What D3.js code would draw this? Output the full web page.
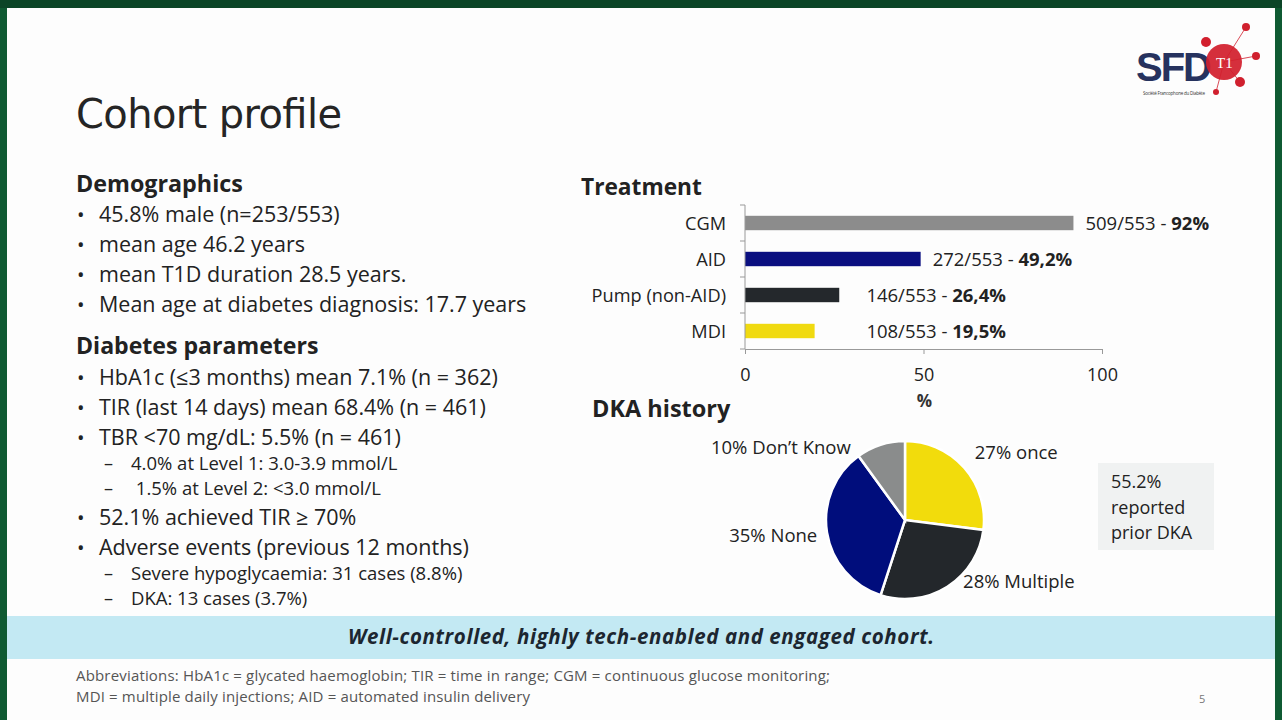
<!DOCTYPE html>
<html>
<head>
  <meta charset="utf-8">
  <title>Cohort profile</title>
  <script src="https://d3js.org/d3.v7.min.js"></script>
  <style>
    body { margin:0; background:#0f5a32; }
    svg { display:block; font-family:"Open Sans", sans-serif; }
  </style>
</head>
<body>
<div id="vis"></div>
<script>
// datos del grafico de tratamiento
var treatments = ["CGM", "AID", "Pump (non-AID)", "MDI"];
var treatPct = [92, 49.2, 26.4, 19.5];
var treatCount = ["509/553", "272/553", "146/553", "108/553"];
var treatPctLabel = ["92%", "49,2%", "26,4%", "19,5%"];
var treatColors = ["#8c8c8c", "#0a0f80", "#24282c", "#f0da10"];
var xTicks = [0, 50, 100];

// historia de DKA (pie)
var dkaLabels = ["27% once", "28% Multiple", "35% None", "10% Don\u2019t Know"];
var dkaValues = [27, 28, 35, 10];
var dkaColors = ["#f2dc0c", "#23272b", "#000d7c", "#8a8c8c"];

// textos de la izquierda
var demographics = ["45.8% male (n=253/553)", "mean age 46.2 years",
  "mean T1D duration 28.5 years.", "Mean age at diabetes diagnosis: 17.7 years"];
var diabetesParams = [
  {t:"HbA1c (\u22643 months) mean 7.1% (n = 362)", lvl:1},
  {t:"TIR (last 14 days) mean 68.4% (n = 461)", lvl:1},
  {t:"TBR <70 mg/dL: 5.5% (n = 461)", lvl:1},
  {t:"4.0% at Level 1: 3.0-3.9 mmol/L", lvl:2},
  {t:" 1.5% at Level 2: <3.0 mmol/L", lvl:2},
  {t:"52.1% achieved TIR \u2265 70%", lvl:1},
  {t:"Adverse events (previous 12 months)", lvl:1},
  {t:"Severe hypoglycaemia: 31 cases (8.8%)", lvl:2},
  {t:"DKA: 13 cases (3.7%)", lvl:2}
];

var svg = d3.select("#vis").append("svg")
  .attr("width", 1282).attr("height", 720);

// fondo de la diapositiva
svg.append("rect").attr("x",0).attr("y",0).attr("width",1282).attr("height",8).attr("fill","#0b4527");
svg.append("rect").attr("x",7).attr("y",8).attr("width",1268).attr("height",712).attr("fill","#fdfdfd");

// titulo
svg.append("text").attr("x",76).attr("y",128)
  .attr("font-size",40).attr("fill","#252525").style("font-family","'DejaVu Sans'")
  .attr("textLength",266).text("Cohort profile");

// logo (simplificado)
var logo = svg.append("g");
[[1246,27,4],[1256,56,4],[1240,82,5],[1216,92,3]].forEach(function(p){
  logo.append("line").attr("x1",1224).attr("y1",62).attr("x2",p[0]).attr("y2",p[1])
    .attr("stroke","#d0202e").attr("stroke-width",0.8);
  logo.append("circle").attr("cx",p[0]).attr("cy",p[1]).attr("r",p[2]).attr("fill","#d0202e");
});
logo.append("text").attr("x",1136).attr("y",81).attr("font-size",40).attr("font-weight","bold")
  .attr("fill","#26325e").style("font-family","'Liberation Sans'").attr("textLength",76).text("SFD");
logo.append("circle").attr("cx",1224).attr("cy",62).attr("r",18).attr("fill","#d21f2d").attr("opacity",0.93);
logo.append("circle").attr("cx",1206).attr("cy",42).attr("r",5).attr("fill","#d21f2d");
logo.append("text").attr("x",1216).attr("y",68).attr("font-size",15).attr("fill","#fff")
  .style("font-family","'Liberation Serif'").text("T1");
logo.append("text").attr("x",1143).attr("y",95).attr("font-size",4.5).attr("fill","#333")
  .attr("textLength",62).text("Soci\u00e9t\u00e9 Francophone du Diab\u00e8te");

// columna izquierda
var left = svg.append("g").attr("fill","#222");
left.append("text").attr("x",76).attr("y",192).attr("font-size",23.3).attr("font-weight","bold").text("Demographics");
demographics.forEach(function(d,i){
  var y = 222 + i*30;
  left.append("text").attr("x",77).attr("y",y).attr("font-size",20).text("\u2022");
  left.append("text").attr("x",99).attr("y",y).attr("font-size",21.5).text(d);
});
left.append("text").attr("x",76).attr("y",354).attr("font-size",23.1).attr("font-weight","bold").text("Diabetes parameters");
var yy = 385;
diabetesParams.forEach(function(d,i){
  if (i>0) {
    yy += (d.lvl==2 || diabetesParams[i-1].lvl==2) ? (d.lvl==2 ? 25 : 30) : 30;
  }
  if (d.lvl==1) {
    left.append("text").attr("x",77).attr("y",yy).attr("font-size",20).text("\u2022");
    left.append("text").attr("x",99).attr("y",yy).attr("font-size",21.5).text(d.t);
  } else {
    left.append("text").attr("x",104).attr("y",yy).attr("font-size",18).text("\u2013");
    left.append("text").attr("x",131).attr("y",yy).attr("font-size",18.5).attr("xml:space","preserve").text(d.t);
  }
});

// grafico de barras - Treatment
svg.append("text").attr("x",581).attr("y",195).attr("font-size",22.7).attr("font-weight","bold")
  .attr("fill","#222").text("Treatment");

var x = d3.scaleLinear().domain([0,100]).range([745,1102]);
var y = d3.scaleBand().domain(treatments).range([205,349]).paddingInner(0.6).paddingOuter(0.3);

var bars = svg.append("g");
bars.selectAll("rect").data(treatments).enter().append("rect")
  .attr("x", x(0))
  .attr("y", function(d){ return y(d); })
  .attr("width", function(d,i){ return x(treatPct[i]) - x(0); })
  .attr("height", y.bandwidth())
  .attr("fill", function(d,i){ return treatColors[i]; });

// eje y
svg.append("line").attr("x1",x(0)).attr("x2",x(0)).attr("y1",205).attr("y2",349).attr("stroke","#999");
var step = y.step();
d3.range(treatments.length+1).forEach(function(k){
  var yt = 205 + k*step;
  svg.append("line").attr("x1",x(0)-5).attr("x2",x(0)).attr("y1",yt).attr("y2",yt).attr("stroke","#999");
});
svg.selectAll("text.cat").data(treatments).enter().append("text")
  .attr("class","cat")
  .attr("x", 726)
  .attr("y", function(d){ return y(d) + y.bandwidth()/2 + 6.5; })
  .attr("text-anchor","end").attr("font-size",18.2).attr("fill","#222")
  .text(function(d){ return d; });

// eje x
var xAxis = svg.append("g").attr("transform","translate(0,349)")
  .call(d3.axisBottom(x).tickValues(xTicks).tickSize(5).tickPadding(14));
xAxis.select(".domain").attr("stroke","#999");
xAxis.selectAll(".tick line").attr("stroke","#999");
xAxis.selectAll(".tick text").attr("font-size",18).attr("fill","#222").style("font-family","'Open Sans'");
svg.append("text").attr("x",x(50)+1).attr("y",407).attr("text-anchor","middle")
  .attr("font-size",17).attr("font-weight","bold").attr("fill","#333").text("%");

// etiquetas de valores
var vals = svg.selectAll("text.val").data(treatments).enter().append("text")
  .attr("class","val")
  .attr("x", function(d,i){ return Math.max(x(treatPct[i]) + 12, x(34)); })
  .attr("y", function(d){ return y(d) + y.bandwidth()/2 + 6.5; })
  .attr("font-size",18.5).attr("fill","#222");
vals.append("tspan").text(function(d,i){ return treatCount[i] + " - "; });
vals.append("tspan").attr("font-weight","bold").text(function(d,i){ return treatPctLabel[i]; });

// pie - DKA history
svg.append("text").attr("x",592).attr("y",417).attr("font-size",23.5).attr("font-weight","bold")
  .attr("fill","#222").text("DKA history");

var cx = 905, cy = 520, r = 79;
var pie = d3.pie().sort(null).value(function(d){ return d; });
var arc = d3.arc().innerRadius(0).outerRadius(r);
var arcs = pie(dkaValues);
var pg = svg.append("g").attr("transform","translate("+cx+","+cy+")");
pg.selectAll("path").data(arcs).enter().append("path")
  .attr("d", arc)
  .attr("fill", function(d,i){ return dkaColors[i]; })
  .attr("stroke","#fff").attr("stroke-width",2.5);

// etiquetas del pie: fuera del circulo
var labelArc = d3.arc().innerRadius(r+22).outerRadius(r+22);
var labelAdj = [[-6,6],[4,-17],[12,6],[-23,30]];
pg.selectAll("text").data(arcs).enter().append("text")
  .attr("x", function(d,i){ return labelArc.centroid(d)[0] + labelAdj[i][0]; })
  .attr("y", function(d,i){ return labelArc.centroid(d)[1] + labelAdj[i][1]; })
  .attr("text-anchor", function(d){ return (d.startAngle + d.endAngle)/2 < Math.PI ? "start" : "end"; })
  .attr("font-size",18.5).attr("fill","#222")
  .text(function(d,i){ return dkaLabels[i]; });

// caja 55.2%
svg.append("rect").attr("x",1098).attr("y",463).attr("width",116).attr("height",87).attr("fill","#f0f2f2");
["55.2%","reported","prior DKA"].forEach(function(t,i){
  svg.append("text").attr("x",1111).attr("y",488+i*25.5).attr("font-size",18).attr("fill","#222").text(t);
});

// banda azul
svg.append("rect").attr("x",7).attr("y",616).attr("width",1268).attr("height",43).attr("fill","#c3e9f3");
svg.append("text").attr("x",348).attr("y",644)
  .attr("font-size",20.5).attr("font-weight","bold").attr("font-style","italic")
  .attr("textLength",586)
  .attr("fill","#1c2630").text("Well-controlled, highly tech-enabled and engaged cohort.");

// abreviaturas
svg.append("text").attr("x",76).attr("y",681).attr("font-size",15).attr("fill","#555")
  .attr("textLength",754)
  .text("Abbreviations: HbA1c = glycated haemoglobin; TIR = time in range; CGM = continuous glucose monitoring;");
svg.append("text").attr("x",76).attr("y",702).attr("font-size",15).attr("fill","#555")
  .attr("textLength",454)
  .text("MDI = multiple daily injections; AID = automated insulin delivery");
svg.append("text").attr("x",1199).attr("y",703).attr("font-size",11).attr("fill","#777").text("5");
</script>
</body>
</html>
